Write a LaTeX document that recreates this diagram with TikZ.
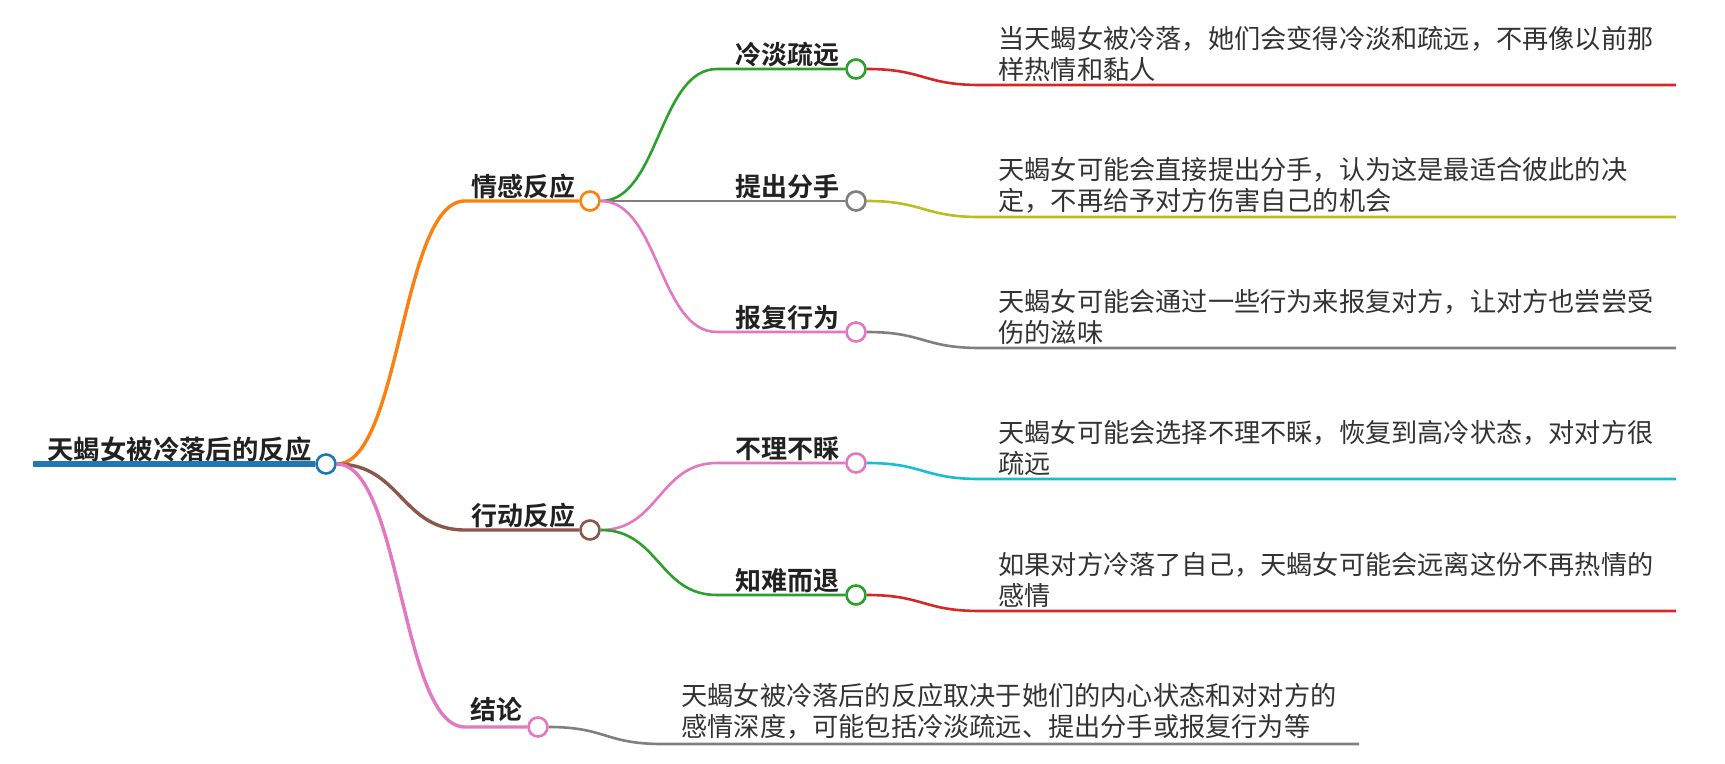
\documentclass[tikz,border=0pt]{standalone}
\usepackage{fontspec}
\setmainfont{Noto Sans CJK SC}[BoldFont={Noto Sans CJK SC Bold}]
\usepackage{tikz}
\usetikzlibrary{positioning,calc}
\definecolor{TabBlue}{HTML}{1F77B4}
\definecolor{TabOrange}{HTML}{FF7F0E}
\definecolor{TabGreen}{HTML}{2CA02C}
\definecolor{TabRed}{HTML}{D62728}
\definecolor{TabBrown}{HTML}{8C564B}
\definecolor{TabPink}{HTML}{E377C2}
\definecolor{TabGray}{HTML}{7F7F7F}
\definecolor{TabOlive}{HTML}{BCBD22}
\definecolor{TabCyan}{HTML}{17BECF}
\definecolor{LeafText}{HTML}{333333}

\begin{document}
\begin{tikzpicture}[x=0.5pt, y=-0.5pt,
  dot/.style     = {circle, draw, fill=white, line width=1.3pt, minimum size=9.5pt, inner sep=0pt},
  lbl/.style     = {anchor=east, inner sep=0pt, text=black!87, font=\fontsize{13pt}{15pt}\selectfont\bfseries},
  leaf/.style    = {anchor=west, inner sep=0pt, align=left, text=LeafText, font=\fontsize{13.1pt}{15.5pt}\selectfont},
  rootline/.style= {line width=3pt},
  mainline/.style= {line width=1.7pt},
  subline/.style = {line width=1.3pt}
]
\useasboundingbox (0,0) rectangle (1725,764);

% Root
\node[dot, draw=TabBlue] (root) at (326,464) {};
\node[lbl, font=\fontsize{13.2pt}{15pt}\selectfont\bfseries] (rootLbl) at (312,449) {天蝎女被冷落后的反应};
\coordinate (rootIn) at (33,464);
\draw[rootline, TabBlue] (rootIn) -- (root.west);

% First level
\node[dot, draw=TabOrange] (emo) at (590,201) {};
\node[dot, draw=TabBrown]  (act) at (590,530) {};
\node[dot, draw=TabPink]   (con) at (538,727) {};
\node[lbl] (emoLbl) at (576,187) {情感反应};
\node[lbl] (actLbl) at (576,516) {行动反应};
\node[lbl] (conLbl) at (523,710) {结论};
\coordinate (emoIn) at (465,201);
\coordinate (actIn) at (465,530);
\coordinate (conIn) at (465,727);
\draw[mainline, TabOrange] (root.east) .. controls +(64,0) and +(-64,0) .. (emoIn) -- (emo.west);
\draw[mainline, TabBrown]  (root.east) .. controls +(64,0) and +(-64,0) .. (actIn) -- (act.west);
\draw[mainline, TabPink]   (root.east) .. controls +(64,0) and +(-64,0) .. (conIn) -- (con.west);

% Second level
\node[dot, draw=TabGreen] (cold)    at (856,69)  {};
\node[dot, draw=TabGray]  (split)   at (856,201) {};
\node[dot, draw=TabPink]  (revenge) at (856,332) {};
\node[dot, draw=TabPink]  (ignore)  at (856,463) {};
\node[dot, draw=TabGreen] (retreat) at (856,595) {};
\foreach \n/\y/\t in {cold/69/冷淡疏远, split/201/提出分手, revenge/332/报复行为,
                      ignore/463/不理不睬, retreat/595/知难而退}
  \node[lbl] (\n Lbl) at (840,\y-14) {\t};

\coordinate (coldIn)    at (717,69);
\coordinate (revengeIn) at (717,332);
\coordinate (ignoreIn)  at (717,463);
\coordinate (retreatIn) at (717,595);
\draw[subline, TabGreen] (emo.east) .. controls +(58,0) and +(-58,0) .. (coldIn) -- (cold.west);
\draw[subline, TabGray]  (emo.east) -- (split.west);
\draw[subline, TabPink]  (emo.east) .. controls +(58,0) and +(-58,0) .. (revengeIn) -- (revenge.west);
\draw[subline, TabPink]  (act.east) .. controls +(58,0) and +(-58,0) .. (ignoreIn) -- (ignore.west);
\draw[subline, TabGreen] (act.east) .. controls +(58,0) and +(-58,0) .. (retreatIn) -- (retreat.west);

% Leaves
\foreach \n/\y/\c/\txt in {
    cold/69/TabRed/{当天蝎女被冷落，她们会变得冷淡和疏远，不再像以前那\\样热情和黏人},
    split/201/TabOlive/{天蝎女可能会直接提出分手，认为这是最适合彼此的决\\定，不再给予对方伤害自己的机会},
    revenge/332/TabGray/{天蝎女可能会通过一些行为来报复对方，让对方也尝尝受\\伤的滋味},
    ignore/463/TabCyan/{天蝎女可能会选择不理不睬，恢复到高冷状态，对对方很\\疏远},
    retreat/595/TabRed/{如果对方冷落了自己，天蝎女可能会远离这份不再热情的\\感情}}
{
  \node[leaf] (\n Txt) at (998,\y-15.5) {\txt};
  \coordinate (\n In)  at (980,\y+16);
  \coordinate (\n End) at (1676,\y+16);
  \draw[subline, \c] (\n.east) .. controls +(57,0) and +(-57,0) .. (\n In) -- (\n End);
}

% Conclusion leaf
\node[leaf] (conTxt) at (681,711) {天蝎女被冷落后的反应取决于她们的内心状态和对对方的\\感情深度，可能包括冷淡疏远、提出分手或报复行为等};
\coordinate (conLeafIn)  at (662,744);
\coordinate (conLeafEnd) at (1359,744);
\draw[subline, TabGray] (con.east) .. controls +(57,0) and +(-57,0) .. (conLeafIn) -- (conLeafEnd);
\end{tikzpicture}
\end{document}
